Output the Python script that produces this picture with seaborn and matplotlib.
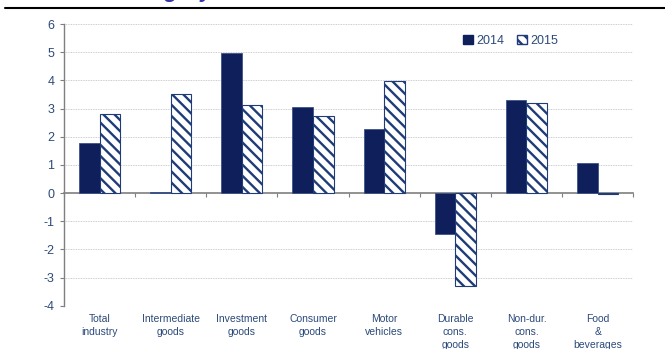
import matplotlib
matplotlib.use("Agg")
import matplotlib.pyplot as plt
from matplotlib.patches import Patch
from matplotlib.lines import Line2D
import seaborn as sns
import pandas as pd

categories = ["Total\nindustry", "Intermediate\ngoods", "Investment\ngoods",
              "Consumer\ngoods", "Motor\nvehicles", "Durable\ncons.\ngoods",
              "Non-dur.\ncons.\ngoods", "Food\n&\nbeverages"]
years = ["2014", "2015"]
values_2014 = [1.76, 0.03, 4.99, 3.04, 2.28, -1.45, 3.31, 1.05]
values_2015 = [2.80, 3.52, 3.14, 2.74, 3.98, -3.31, 3.21, -0.03]
y_ticks = [-4, -3, -2, -1, 0, 1, 2, 3, 4, 5, 6]
title_text = "Production: category"

NAVY = "#0E1F5B"
TEXT = "#2B4A7A"
GRID = "#BDBDBD"
AXIS = "#7F7F7F"

sns.set_theme(style="white")
plt.rcParams["font.family"] = ["Liberation Sans Narrow", "Liberation Sans", "DejaVu Sans"]
plt.rcParams["hatch.linewidth"] = 1.7

df = pd.DataFrame({
    "category": categories * 2,
    "year": [years[0]] * len(categories) + [years[1]] * len(categories),
    "value": values_2014 + values_2015,
})

fig = plt.figure(figsize=(6.65, 3.49), dpi=100)
ax = fig.add_axes([0.0962, 0.124, 0.856, 0.807])

sns.barplot(data=df, x="category", y="value", hue="year", order=categories,
            hue_order=years, palette=[NAVY, "white"], width=0.58, gap=0,
            saturation=1, legend=False, ax=ax, zorder=3)

# solid bars for 2014, hatched bars for 2015
for p in ax.containers[0]:
    p.set_facecolor(NAVY)
    p.set_edgecolor("#3A5488")
    p.set_linewidth(0.6)
for p in ax.containers[1]:
    p.set_facecolor("white")
    p.set_edgecolor("#1F3C78")
    p.set_hatch("\\\\\\")
    p.set_linewidth(0.8)

n = len(categories)
ax.set_xlim(-0.5, n - 0.5)
ax.set_ylim(min(y_ticks), max(y_ticks))
ax.set_yticks(y_ticks)
ax.set_yticklabels([str(t) for t in y_ticks], color=TEXT, fontsize=9)
for t in y_ticks:
    if t != 0:
        ax.axhline(t, color=GRID, linestyle=(0, (1, 1)), linewidth=0.6, zorder=1)

# x axis through zero with boundary ticks between categories
ax.spines["bottom"].set_position(("data", 0))
ax.spines["bottom"].set_color(AXIS)
ax.spines["bottom"].set_linewidth(1.2)
ax.spines["left"].set_color(AXIS)
ax.spines["left"].set_linewidth(1.0)
ax.spines["top"].set_visible(False)
ax.spines["right"].set_visible(False)
ax.set_xticks([i - 0.5 for i in range(n + 1)])
ax.set_xticklabels([])
ax.tick_params(axis="x", direction="out", length=3, width=0.8, color=AXIS, bottom=True)
ax.tick_params(axis="y", direction="out", length=3, width=0.8, color=AXIS, left=True, pad=4)
ax.set_xlabel("")
ax.set_ylabel("")

for i, name in enumerate(categories):
    ax.text(i, -0.03, name, transform=ax.get_xaxis_transform(), ha="center", va="top",
            fontsize=7.5, color=TEXT, linespacing=1.38)

handles = [Patch(facecolor=NAVY, edgecolor=NAVY),
           Patch(facecolor="white", edgecolor="#1F3C78", hatch="\\\\\\")]
leg = ax.legend(handles, years, loc="center left", bbox_to_anchor=(0.682, 0.94), ncol=2,
                frameon=False, handlelength=0.8, handleheight=0.8, handletextpad=0.25,
                columnspacing=1.0, fontsize=9)
for t in leg.get_texts():
    t.set_color(TEXT)

# heading rule and clipped heading text above it
fig.add_artist(Line2D([5 / 665, 1.0], [1 - 8 / 349] * 2, transform=fig.transFigure,
                      color="black", linewidth=1.5))
fig.text(213 / 665, 1 + 3 / 349, title_text, ha="right", va="baseline", fontsize=16,
         fontweight="bold", fontstyle="italic", color="#3534A8",
         family=["Liberation Sans", "DejaVu Sans"])

fig.savefig("out.png", dpi=100)
